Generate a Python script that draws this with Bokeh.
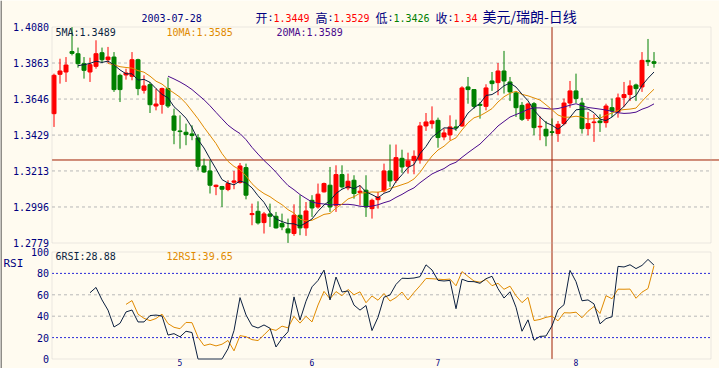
import numpy as np
import pandas as pd
from bokeh.plotting import figure
from bokeh.models import (Range1d, FixedTicker, Label, Span, ColumnDataSource, LinearAxis,
                          PrintfTickFormatter, BoxAnnotation, Whisker)
from bokeh.embed import file_html
from bokeh.resources import INLINE

# ---------------- data ----------------
opens = [1.3558, 1.3795, 1.3809, 1.3932, 1.3919, 1.3859, 1.3809, 1.3843, 1.3925, 1.3883,
         1.3899, 1.3789, 1.3791, 1.3783, 1.3883, 1.3699, 1.3733, 1.3604, 1.3614, 1.3709,
         1.3544, 1.3454, 1.3446, 1.3436, 1.3412, 1.3243, 1.3213, 1.3119, 1.3119, 1.3101,
         1.3145, 1.3143, 1.3233, 1.2950, 1.2970, 1.2902, 1.2954, 1.2940, 1.2896, 1.2864,
         1.2836, 1.2946, 1.2870, 1.3036, 1.2996, 1.3087, 1.3127, 1.3006, 1.3191, 1.3111,
         1.3157, 1.3083, 1.3097, 1.2986, 1.3040, 1.3093, 1.3213, 1.3157, 1.3289, 1.3241,
         1.3277, 1.3281, 1.3484, 1.3498, 1.3518, 1.3418, 1.3430, 1.3478, 1.3484, 1.3719,
         1.3703, 1.3614, 1.3602, 1.3755, 1.3745, 1.3815, 1.3749, 1.3683, 1.3608, 1.3528,
         1.3618, 1.3478, 1.3464, 1.3449, 1.3438, 1.3498, 1.3622, 1.3695, 1.3622, 1.3468,
         1.3504, 1.3514, 1.3504, 1.3594, 1.3568, 1.3655, 1.3673, 1.3731, 1.3719, 1.3879,
         1.3871]
highs = [1.3799, 1.3889, 1.3899, 1.4080, 1.3956, 1.3899, 1.3895, 1.4000, 1.3956, 1.3960,
         1.3929, 1.3799, 1.3829, 1.3929, 1.3889, 1.3789, 1.3749, 1.3709, 1.3715, 1.3775,
         1.3588, 1.3548, 1.3498, 1.3488, 1.3434, 1.3287, 1.3277, 1.3131, 1.3123, 1.3157,
         1.3213, 1.3261, 1.3257, 1.3016, 1.3030, 1.2966, 1.3016, 1.2966, 1.2956, 1.2926,
         1.3012, 1.3067, 1.3026, 1.3067, 1.3137, 1.3143, 1.3237, 1.3247, 1.3247, 1.3197,
         1.3187, 1.3127, 1.3187, 1.3046, 1.3087, 1.3257, 1.3372, 1.3372, 1.3341, 1.3323,
         1.3337, 1.3508, 1.3562, 1.3602, 1.3534, 1.3468, 1.3548, 1.3522, 1.3723, 1.3779,
         1.3703, 1.3628, 1.3735, 1.3809, 1.3863, 1.3936, 1.3779, 1.3689, 1.3628, 1.3624,
         1.3628, 1.3542, 1.3514, 1.3529, 1.3514, 1.3649, 1.3755, 1.3799, 1.3653, 1.3568,
         1.3554, 1.3554, 1.3618, 1.3649, 1.3679, 1.3749, 1.3759, 1.3739, 1.3929, 1.4008,
         1.3929]
lows = [1.3478, 1.3739, 1.3749, 1.3909, 1.3835, 1.3769, 1.3749, 1.3829, 1.3863, 1.3863,
        1.3689, 1.3628, 1.3763, 1.3759, 1.3669, 1.3679, 1.3562, 1.3578, 1.3558, 1.3592,
        1.3374, 1.3347, 1.3368, 1.3398, 1.3217, 1.3201, 1.3077, 1.3067, 1.2996, 1.3091,
        1.3103, 1.3137, 1.3042, 1.2886, 1.2890, 1.2836, 1.2876, 1.2866, 1.2856, 1.2779,
        1.2822, 1.2826, 1.2822, 1.2936, 1.2986, 1.3083, 1.2966, 1.2966, 1.3107, 1.3097,
        1.3046, 1.3006, 1.2936, 1.2926, 1.2986, 1.3083, 1.3117, 1.3141, 1.3201, 1.3197,
        1.3193, 1.3257, 1.3454, 1.3468, 1.3353, 1.3398, 1.3398, 1.3454, 1.3478, 1.3618,
        1.3588, 1.3528, 1.3578, 1.3695, 1.3669, 1.3679, 1.3634, 1.3538, 1.3514, 1.3514,
        1.3428, 1.3398, 1.3362, 1.3426, 1.3388, 1.3488, 1.3594, 1.3622, 1.3438, 1.3428,
        1.3388, 1.3448, 1.3474, 1.3538, 1.3534, 1.3598, 1.3634, 1.3634, 1.3689, 1.3845,
        1.3835]
closes = [1.3789, 1.3815, 1.3851, 1.3921, 1.3859, 1.3819, 1.3853, 1.3919, 1.3883, 1.3899,
          1.3703, 1.3703, 1.3803, 1.3883, 1.3709, 1.3725, 1.3612, 1.3616, 1.3709, 1.3604,
          1.3458, 1.3450, 1.3432, 1.3426, 1.3241, 1.3207, 1.3127, 1.3127, 1.3103, 1.3137,
          1.3153, 1.3243, 1.3067, 1.2956, 1.2900, 1.2954, 1.2940, 1.2870, 1.2876, 1.2840,
          1.2946, 1.2870, 1.2972, 1.2990, 1.3073, 1.3137, 1.2996, 1.3191, 1.3117, 1.3151,
          1.3077, 1.3091, 1.2996, 1.3036, 1.3056, 1.3213, 1.3153, 1.3293, 1.3237, 1.3273,
          1.3301, 1.3484, 1.3508, 1.3514, 1.3414, 1.3442, 1.3478, 1.3472, 1.3713, 1.3703,
          1.3602, 1.3608, 1.3713, 1.3739, 1.3815, 1.3755, 1.3689, 1.3594, 1.3524, 1.3616,
          1.3474, 1.3482, 1.3424, 1.3445, 1.3494, 1.3622, 1.3695, 1.3649, 1.3468, 1.3498,
          1.3508, 1.3504, 1.3604, 1.3574, 1.3653, 1.3673, 1.3725, 1.3709, 1.3879, 1.3871,
          1.3861]

price_ticks = [1.2779, 1.2996, 1.3213, 1.3429, 1.3646, 1.3863, 1.4080]
rsi_ticks = [0, 20, 40, 60, 80, 100]
month_ticks = [21, 43, 64, 87]
month_labels = ["5", "6", "7", "8"]

cursor_index = 83
cursor_price = 1.3279
cursor_date = "2003-07-28"
hdr_open, hdr_high, hdr_low, hdr_close = "1.3449", "1.3529", "1.3426", "1.34"
ma5_txt, ma10_txt, ma20_txt = "1.3489", "1.3585", "1.3589"
rsi6_txt, rsi12_txt = "28.88", "39.65"
title_txt = "美元/瑞朗-日线"

# ---------------- derived series ----------------
o = np.array(opens); h = np.array(highs); l = np.array(lows); c = np.array(closes)
n = len(c)
idx = np.arange(n)
cs = pd.Series(c)
ma5 = cs.rolling(5).mean()
ma10 = cs.rolling(10).mean()
ma20 = cs.rolling(20).mean()

def rsi(closes_arr, N):
    d = np.diff(closes_arr, prepend=np.nan)
    out = np.full(len(closes_arr), np.nan)
    for i in range(N, len(closes_arr)):
        w = d[i - N + 1:i + 1]
        tot = np.abs(w).sum()
        out[i] = 100.0 * np.clip(w, 0, None).sum() / tot if tot > 0 else 50.0
    return out

rsi6 = rsi(c, 6)
rsi12 = rsi(c, 12)

# ---------------- layout constants (screen px) ----------------
BG = "#FFFBF0"
GRAY = "#B8B8B8"
NAVY = "#000080"
RED = "#FF0000"
GREEN = "#008000"
C_MA5 = "#0B1F3F"
C_MA10 = "#E08A00"
C_MA20 = "#4A0A8C"
C_BLUE = "#2A2AD8"
CURSOR = "#A01E00"
MONO = "DejaVu Sans Mono"
CJK = "Noto Sans CJK SC"

W, H = 719, 368
PX = 6.0                      # px per candle
C0 = 53.5                     # screen x of first candle centre
P_TOP, P_BOT = 26.5, 242.5    # screen y of price max / min
R_TOP, R_BOT = 251.5, 358.5   # screen y of RSI 100 / 0
BOX_L, BOX_R = 51.5, 710.5    # panel border x

def sx_to_data(sx):
    return (sx - C0) / PX

xr = Range1d(sx_to_data(0), sx_to_data(W))
XL, XR = sx_to_data(BOX_L), sx_to_data(BOX_R)

pmin, pmax = price_ticks[0], price_ticks[-1]
K = (P_BOT - P_TOP) / (pmax - pmin)
def sy_to_price(sy):
    return pmax - (sy - P_TOP) / K
yr_price = Range1d(sy_to_price(H), sy_to_price(0))
KR = (R_BOT - R_TOP) / 100.0
yr_rsi = Range1d(0 - (H - R_BOT) / KR, 100 + R_TOP / KR)

up = c > o
colors = np.where(up, RED, GREEN)
src = ColumnDataSource(dict(x=idx, o=o, c=c, h=np.maximum(h, np.maximum(o, c)),
                            l=np.minimum(l, np.minimum(o, c)), col=colors))

p = figure(width=W, height=H, x_range=xr, y_range=yr_price,
           output_backend="svg", toolbar_location=None,
           x_axis_location=None, y_axis_location=None,
           min_border_left=0, min_border_right=0, min_border_top=0, min_border_bottom=0,
           background_fill_color=BG, border_fill_color=BG)
p.extra_y_ranges = {"rsi": yr_rsi}
p.xgrid.visible = False
p.ygrid.visible = False
p.outline_line_color = None

def yaxis(ticks, fmt, range_name="default"):
    ax = LinearAxis(y_range_name=range_name, ticker=FixedTicker(ticks=ticks),
                    formatter=PrintfTickFormatter(format=fmt), fixed_location=XL)
    ax.axis_line_color = None
    ax.major_tick_line_color = None
    ax.minor_tick_line_color = None
    ax.major_tick_out = 0
    ax.major_tick_in = 0
    ax.major_label_standoff = 3
    ax.major_label_text_font = MONO
    ax.major_label_text_font_size = "10px"
    ax.major_label_text_color = NAVY
    p.add_layout(ax, "left")

yaxis(price_ticks, "%.4f")
yaxis(rsi_ticks, "%d", "rsi")

xax = LinearAxis(y_range_name="rsi", ticker=FixedTicker(ticks=month_ticks),
                 major_label_overrides={t: s for t, s in zip(month_ticks, month_labels)},
                 fixed_location=0)
xax.axis_line_color = None
xax.major_tick_line_color = None
xax.minor_tick_line_color = None
xax.major_tick_out = 0
xax.major_tick_in = 0
xax.major_label_standoff = 0
xax.major_label_text_font = MONO
xax.major_label_text_font_size = "8px"
xax.major_label_text_color = NAVY
p.add_layout(xax, "below")

def txt(text, X, Y, color, font=MONO, size="10px"):
    p.add_layout(Label(x=X, y=H - Y, x_units="screen", y_units="screen",
                       text=text, text_color=color, text_font=font,
                       text_font_size=size, text_baseline="middle", text_align="left"))

def hlines(levels, color, dash, range_name="default", lo=None, hi=None):
    lo = XL if lo is None else lo
    hi = XR if hi is None else hi
    s = ColumnDataSource(dict(base=list(levels), lower=[lo] * len(levels), upper=[hi] * len(levels)))
    p.add_layout(Whisker(source=s, base="base", lower="lower", upper="upper", dimension="width",
                         y_range_name=range_name, line_color=color, line_dash=dash, line_width=1,
                         lower_head=None, upper_head=None))

# ---------------- price panel ----------------
hlines(price_ticks[1:-1], GRAY, "3 3")

p.segment(x0="x", y0="l", x1="x", y1="h", line_color="col", line_width=1, source=src)
p.vbar(x="x", bottom="o", top="c", width=4 / 6, fill_color="col", line_color="col",
       line_width=1, source=src)

p.line(idx, ma20, line_color=C_MA20, line_width=1)
p.line(idx, ma10, line_color=C_MA10, line_width=1)
p.line(idx, ma5, line_color=C_MA5, line_width=1)

p.add_layout(BoxAnnotation(left=XL, right=XR, bottom=pmin, top=pmax, fill_color=None,
                           fill_alpha=0, line_color=GRAY, line_width=1))

# ---------------- RSI panel ----------------
hlines((40, 60), GRAY, "3 3", "rsi")
hlines((20, 80), C_BLUE, "2 2", "rsi")
p.line(idx, rsi12, line_color=C_MA10, line_width=1, y_range_name="rsi")
p.line(idx, rsi6, line_color=C_MA5, line_width=1, y_range_name="rsi")
p.add_layout(BoxAnnotation(left=XL, right=XR, bottom=0, top=100, fill_color=None,
                           fill_alpha=0, line_color=GRAY, line_width=1, y_range_name="rsi"))

# ---------------- cursor ----------------
hlines([cursor_price], CURSOR, "solid", lo=XL, hi=xr.end)
cur_src = ColumnDataSource(dict(base=[cursor_index], lower=[sy_to_price(R_BOT)], upper=[pmax]))
p.add_layout(Whisker(source=cur_src, base="base", lower="lower", upper="upper", dimension="height",
                     line_color=CURSOR, line_width=1, lower_head=None, upper_head=None))

# window edge line on the far left
p.add_layout(Span(location=sx_to_data(0.5), dimension="height", line_color="#202020", line_width=1))

# ---------------- texts ----------------
txt("5MA:" + ma5_txt, 55, 32, C_MA5)
txt("10MA:" + ma10_txt, 166, 32, C_MA10)
txt("20MA:" + ma20_txt, 276, 32, C_MA20)

txt(cursor_date, 141, 17, NAVY)
for lab, X, val, vcol in [("开", 255, hdr_open, RED), ("高", 315, hdr_high, RED),
                          ("低", 375, hdr_low, GREEN), ("收", 435, hdr_close, RED)]:
    txt(lab, X, 17, NAVY, font=CJK, size="12px")
    txt(":", X + 12, 17, NAVY)
    txt(val, X + 18, 17, vcol)
txt(title_txt, 482, 15, NAVY, font=CJK, size="14px")

txt("6RSI:" + rsi6_txt, 55, 256, C_MA5)
txt("12RSI:" + rsi12_txt, 166, 256, C_MA10)
txt("RSI", 3, 263, NAVY, size="11px")

open("out.html", "w").write(file_html(p, INLINE))
